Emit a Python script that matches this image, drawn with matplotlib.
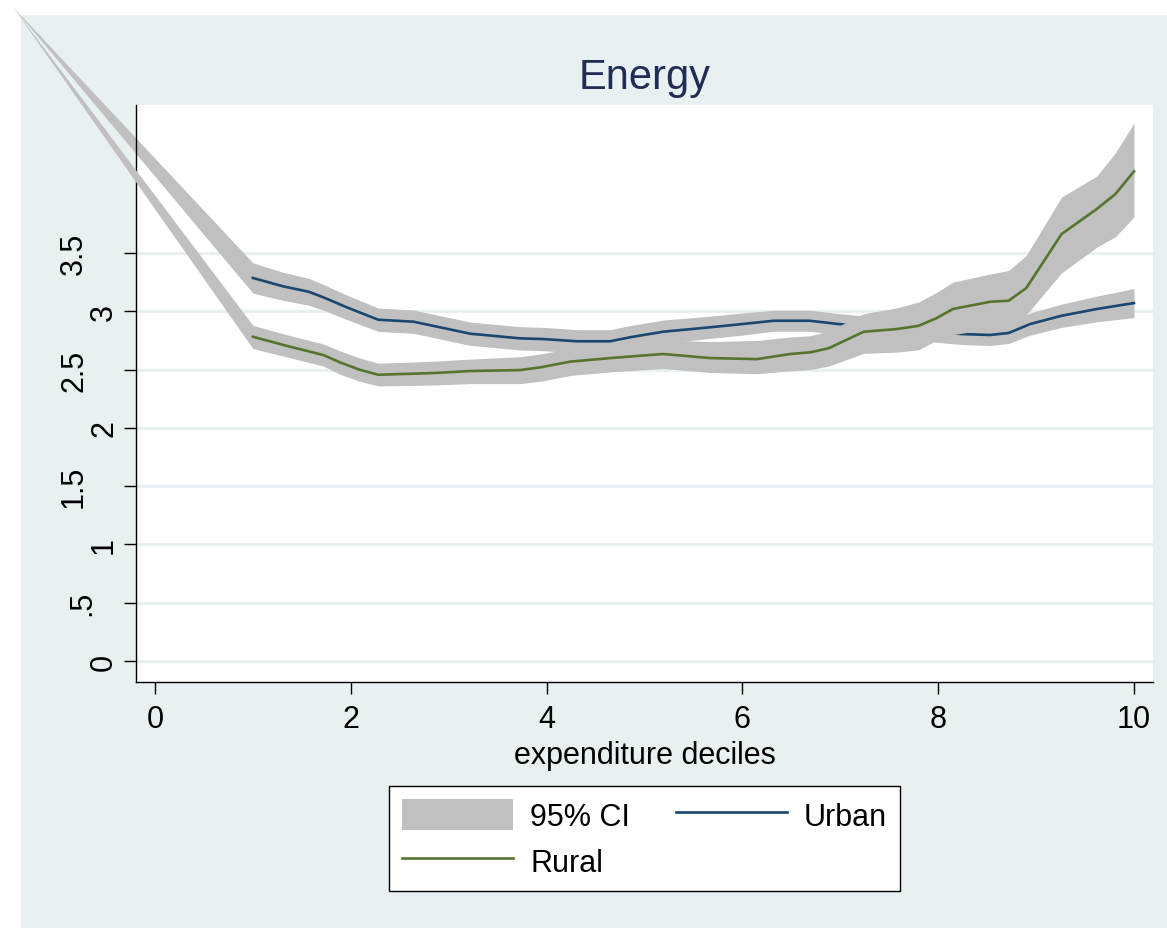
import matplotlib
matplotlib.use("Agg")
import matplotlib.pyplot as plt
import matplotlib.transforms as mtransforms
import numpy as np
from matplotlib.patches import Rectangle, Patch
from matplotlib.lines import Line2D

plt.rcParams['font.family'] = ['Liberation Sans', 'DejaVu Sans']

# ---- data -------------------------------------------------------------
urban_x = [1.00, 1.31, 1.57, 1.72, 1.96, 2.28, 2.64, 2.91, 3.22, 3.73, 3.97, 4.31,
           4.65, 4.85, 5.19, 5.67, 6.00, 6.32, 6.69, 6.98, 7.24, 7.58, 7.98, 8.24,
           8.53, 8.72, 8.94, 9.26, 9.62, 10.00]
urban_y = [3.286, 3.214, 3.168, 3.120, 3.034, 2.928, 2.911, 2.863, 2.808, 2.768, 2.762, 2.743,
           2.743, 2.777, 2.825, 2.863, 2.891, 2.919, 2.919, 2.891, 2.870, 2.850, 2.825, 2.805,
           2.797, 2.814, 2.891, 2.962, 3.020, 3.071]
urban_lo = [3.156, 3.094, 3.053, 3.010, 2.929, 2.828, 2.811, 2.763, 2.708, 2.668, 2.662, 2.643,
            2.643, 2.677, 2.725, 2.768, 2.796, 2.829, 2.829, 2.801, 2.780, 2.760, 2.735, 2.715,
            2.707, 2.724, 2.796, 2.862, 2.910, 2.946]
urban_hi = [3.416, 3.334, 3.283, 3.230, 3.139, 3.028, 3.011, 2.963, 2.908, 2.868, 2.862, 2.843,
            2.843, 2.877, 2.925, 2.958, 2.986, 3.009, 3.009, 2.981, 2.960, 2.940, 2.915, 2.895,
            2.887, 2.904, 2.986, 3.062, 3.130, 3.196]

rural_x = [1.00, 1.34, 1.72, 1.89, 2.09, 2.28, 2.64, 2.91, 3.22, 3.73, 3.94, 4.24,
           4.65, 5.19, 5.67, 6.15, 6.49, 6.69, 6.88, 7.24, 7.58, 7.80, 7.98, 8.15,
           8.53, 8.72, 8.90, 9.26, 9.62, 9.81, 10.00]
rural_y = [2.782, 2.705, 2.625, 2.562, 2.499, 2.456, 2.465, 2.473, 2.488, 2.496, 2.520, 2.568,
           2.599, 2.634, 2.599, 2.590, 2.634, 2.648, 2.683, 2.825, 2.848, 2.876, 2.940, 3.020,
           3.082, 3.091, 3.200, 3.663, 3.878, 4.006, 4.201]
rural_lo = [2.68, 2.61, 2.53, 2.46, 2.40, 2.36, 2.365, 2.37, 2.38, 2.38, 2.40, 2.45,
            2.48, 2.51, 2.475, 2.465, 2.49, 2.50, 2.53, 2.64, 2.65, 2.67, 2.75, 2.80,
            2.85, 2.88, 2.97, 3.33, 3.55, 3.64, 3.81]
rural_hi = [2.88, 2.80, 2.72, 2.66, 2.60, 2.555, 2.565, 2.575, 2.59, 2.61, 2.635, 2.68,
            2.715, 2.755, 2.74, 2.75, 2.78, 2.79, 2.83, 2.98, 3.03, 3.08, 3.16, 3.25,
            3.32, 3.35, 3.48, 3.98, 4.16, 4.36, 4.615]

# both confidence bands open from a common leading vertex
ci_lead_x = -1.46
ci_lead_y = 5.62

y_ticks = [0, 0.5, 1, 1.5, 2, 2.5, 3, 3.5]
y_ticklabels = ['0', '.5', '1', '1.5', '2', '2.5', '3', '3.5']
x_ticks = [0, 2, 4, 6, 8, 10]

# ---- style ------------------------------------------------------------
BG = '#E8F0F2'
GRID = '#E8F0F2'
BAND = '#C0C0C0'
URBAN = '#1A476F'
RURAL = '#55752F'
TITLE = '#1F2D55'
FS = 22

W, H = 1167, 929
fig = plt.figure(figsize=(W / 100, H / 100), dpi=100)
fig.patch.set_facecolor('white')
fig.add_artist(Rectangle((21 / W, 0), 1 - 21 / W, 1 - 16 / H, transform=fig.transFigure,
                         facecolor=BG, edgecolor='none', zorder=-5))

ax = fig.add_axes([136 / W, 1 - 683 / H, (1153 - 136) / W, (683 - 106) / H])
ax.set_facecolor('white')
ax.set_xlim(-0.194, 10.194)
ax.set_ylim(-0.180, 4.770)

ax.set_axisbelow(True)
ax.yaxis.grid(True, color=GRID, linewidth=2.2, zorder=0)
ax.xaxis.grid(False)


def band(xs, lo, hi, z):
    bx = np.r_[ci_lead_x, xs]
    blo = np.r_[ci_lead_y, lo]
    bhi = np.r_[ci_lead_y, hi]
    ax.fill_between(bx, blo, bhi, color=BAND, linewidth=0, clip_on=False, zorder=z)


band(urban_x, urban_lo, urban_hi, 2)
ax.plot(urban_x, urban_y, color=URBAN, linewidth=1.9, zorder=3)
band(rural_x, rural_lo, rural_hi, 4)
ax.plot(rural_x, rural_y, color=RURAL, linewidth=1.9, zorder=5)

for s in ['top', 'right']:
    ax.spines[s].set_visible(False)
for s in ['left', 'bottom']:
    ax.spines[s].set_color('black')
    ax.spines[s].set_linewidth(1.0)

ax.set_yticks(y_ticks)
ax.set_xticks(x_ticks)
ax.tick_params(axis='both', length=8.5, width=1.0, color='black', labelsize=FS)
ax.tick_params(axis='y', labelleft=False)
ax.tick_params(axis='x', pad=7)

# vertical y labels; the baseline sits further left for longer strings
ylab_tf = mtransforms.blended_transform_factory(fig.transFigure, ax.transData)
baseline_px = {1: 112, 2: 90, 3: 82}
for v, s in zip(y_ticks, y_ticklabels):
    ax.text(baseline_px[len(s)] / W, v, s, transform=ylab_tf, rotation=90,
            rotation_mode='anchor', ha='center', va='baseline', fontsize=FS,
            clip_on=False)

ax.set_xlabel('expenditure deciles', fontsize=FS, labelpad=5)
ax.set_title('Energy', fontsize=30, color=TITLE, pad=12)

handles = [Patch(facecolor=BAND, edgecolor='none'),
           Line2D([], [], color=RURAL, linewidth=1.9),
           Line2D([], [], color=URBAN, linewidth=1.9)]
labels = ['95% CI', 'Rural', 'Urban']
leg = fig.legend(handles, labels, loc='center', bbox_to_anchor=(644.5 / W, 1 - 839.5 / H),
                 ncol=2, fontsize=FS, frameon=True, fancybox=False, framealpha=1,
                 edgecolor='black', handlelength=3.65, handleheight=1.18,
                 handletextpad=0.55, columnspacing=1.5, labelspacing=0.45, borderpad=0.42)
leg.get_frame().set_linewidth(1.0)

fig.savefig('out.png', dpi=100, facecolor=fig.get_facecolor())
